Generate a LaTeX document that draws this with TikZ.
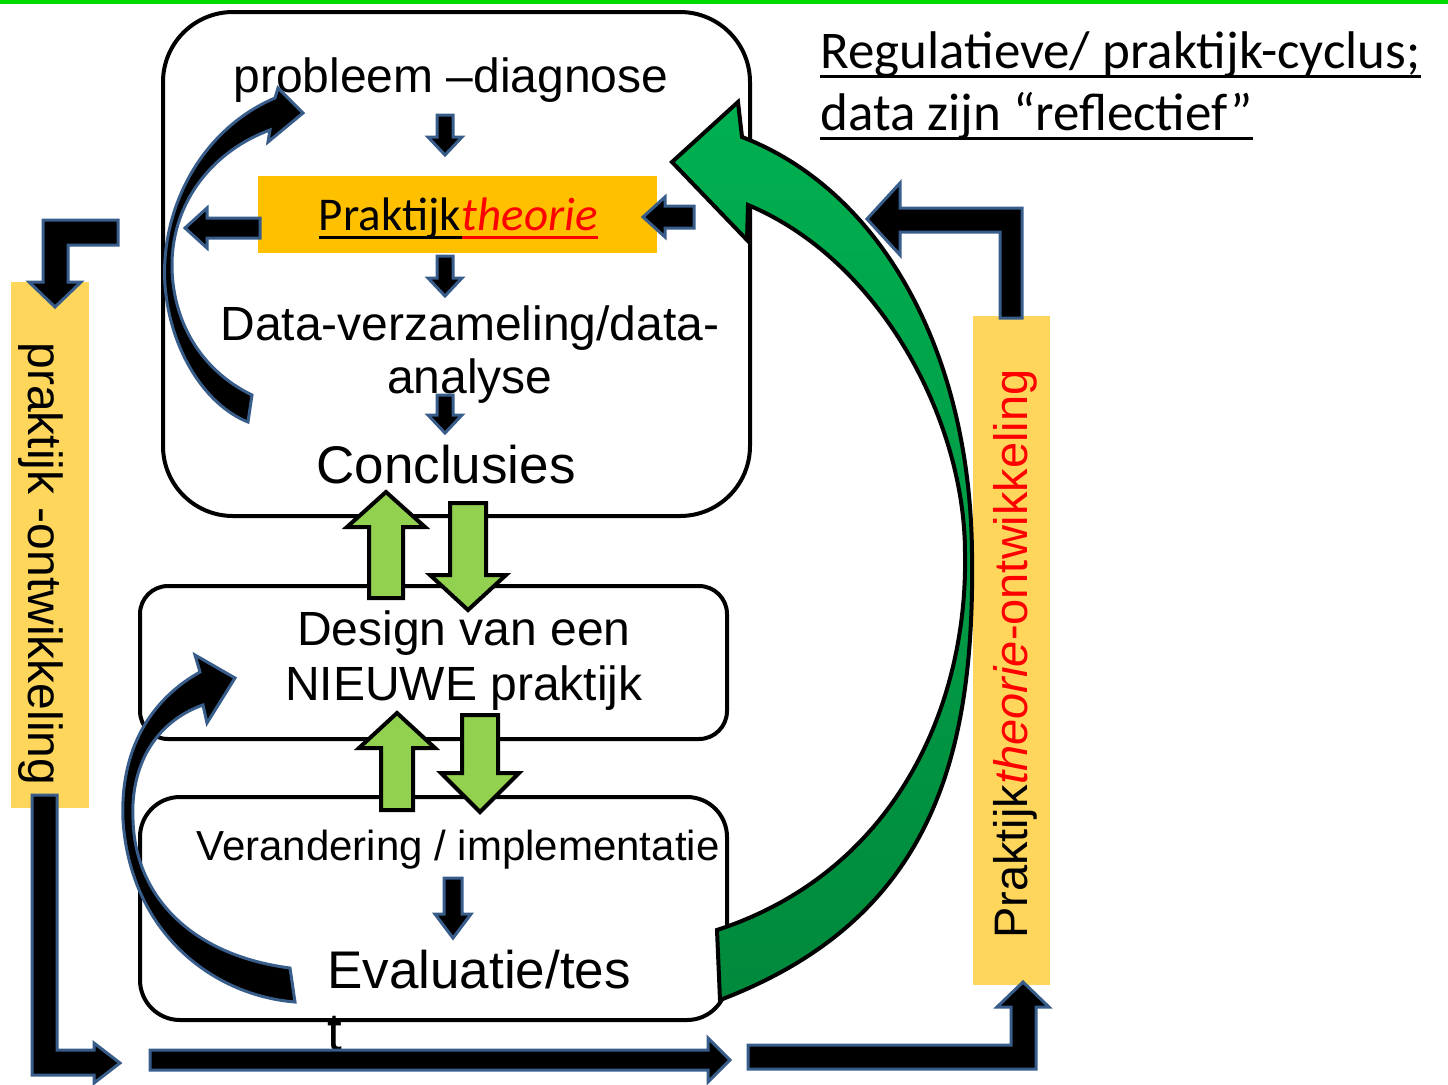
\documentclass[tikz,border=0pt]{standalone}
\usepackage{fontspec}
\setmainfont{Liberation Sans}
\newfontfamily\calibri{Carlito}

\definecolor{topgreen}{RGB}{0,220,0}
\definecolor{theoryorange}{RGB}{255,192,0}
\definecolor{baryellow}{RGB}{255,214,92}
\definecolor{stepgreen}{RGB}{146,208,80}
\definecolor{outlineblue}{RGB}{56,93,138}
\definecolor{bigtop}{RGB}{0,176,80}
\definecolor{bigbottom}{RGB}{0,137,60}

\tikzset{
  lbl/.style={inner sep=0pt, font=\fontsize{24}{29}\selectfont},
  ulbl/.style={inner sep=0pt, font=\calibri\fontsize{26.5}{31}\selectfont},
  uline/.style={line width=1.5pt},
  rbox/.style={draw, line width=2pt, inner sep=0pt},
  blkarrow/.style={fill=black, draw=outlineblue, line width=1.5pt},
  greenarrow/.style={fill=stepgreen, draw=black, line width=2pt},
  bigarrow/.style={top color=bigtop, bottom color=bigbottom, draw=black, line width=2pt}
}

% block arrow: [style]{tail}{angle}{length}{shaft half}{head half}{head length}
\newcommand{\blockarrow}[7][blkarrow]{%
  \draw[#1, shift={#2}, rotate=#3] (0,-#5) -- ({#4-#7},-#5) -- ({#4-#7},-#6) -- (#4,0)
    -- ({#4-#7},#6) -- ({#4-#7},#5) -- (0,#5) -- cycle;}

\begin{document}
\begin{tikzpicture}[x=0.5pt, y=-0.5pt]
    \useasboundingbox (0,0) rectangle (1448,1084);
    \fill[topgreen] (0,0) rectangle (1448,4);

    % Bars
    \node[fill=baryellow, minimum width=39pt, minimum height=263pt, inner sep=0pt] (leftbar) at (50,545) {};
    \node[fill=baryellow, minimum width=38.5pt, minimum height=334.5pt, inner sep=0pt] (rightbar) at (1011.5,650.5) {};

    % Boxes
    \node[rbox, rounded corners=35pt, minimum width=293.5pt, minimum height=252pt] (cyclebox) at (456.5,264) {};
    \node[rbox, rounded corners=14pt, minimum width=293.5pt, minimum height=76.5pt] (designbox) at (433.5,662.5) {};
    \node[rbox, rounded corners=20pt, minimum width=293.5pt, minimum height=111.5pt] (evalbox) at (433.5,908.5) {};
    \node[fill=theoryorange, minimum width=199.5pt, minimum height=38.5pt, inner sep=0pt] (theorybox) at (457.5,214.5) {};

    % Labels
    \node[lbl, anchor=base] (diag) at (451,92) {probleem –diagnose};
    \node[ulbl, anchor=base east, font=\calibri\fontsize{23.5}{28}\selectfont] (theoryA) at (461.5,230) {Praktijk};
    \node[ulbl, anchor=base west, font=\calibri\itshape\fontsize{23.5}{28}\selectfont, text=red] (theoryB) at (461.5,230) {theorie};
    \draw[uline] ([yshift=-3.5pt]theoryA.base west) -- ([yshift=-3.5pt]theoryA.base east);
    \draw[uline, red] ([yshift=-3.5pt]theoryB.base west) -- ([yshift=-3.5pt]theoryB.base east);
    \node[lbl, anchor=base] (data1) at (470,340) {Data-verzameling/data-};
    \node[lbl, anchor=base] (data2) at (470,393) {analyse};
    \node[lbl, anchor=base, font=\fontsize{26.5}{32}\selectfont] (concl) at (446,483) {Conclusies};
    \node[lbl, anchor=base] (design1) at (464,645) {Design van een};
    \node[lbl, anchor=base] (design2) at (464,700) {NIEUWE praktijk};
    \node[lbl, anchor=base, font=\fontsize{21}{25}\selectfont] (change) at (458,860) {Verandering / implementatie};
    \node[lbl, anchor=base west, font=\fontsize{26.5}{32}\selectfont] (eval) at (327,988) {Evaluatie/tes};
    \node[lbl, anchor=base west, font=\fontsize{26.5}{32}\selectfont] (evalt) at (327,1050) {t};
    \node[ulbl, anchor=base west] (title1) at (820,68) {Regulatieve/ praktijk-cyclus;};
    \node[ulbl, anchor=base west] (title2) at (820,130) {data zijn “reflectief”};
    \draw[uline] ([yshift=-4pt]title1.base west) -- ([yshift=-4pt]title1.base east);
    \draw[uline] ([yshift=-4pt]title2.base west) -- ([yshift=-4pt]title2.base east);
    \node[lbl, anchor=base, rotate=-90] (devleft) at (28,564) {praktijk -ontwikkeling};
    \node[lbl, anchor=base, rotate=90, font=\fontsize{23.5}{28}\selectfont] (devright) at (1027,654)
        {Praktijk\textcolor{red}{\itshape theorie}\textcolor{red}{-ontwikkeling}};

    % Small arrows
    \blockarrow{(445,115)}{-90}{40}{8}{17}{18}
    \blockarrow{(445,256)}{-90}{40}{8}{17}{18}
    \blockarrow{(445,395)}{-90}{38}{8}{17}{18}
    \blockarrow{(260,228)}{180}{75}{10}{20}{22}
    \blockarrow{(694,217)}{180}{51}{11}{20}{22}
    \blockarrow{(453,878)}{-90}{60}{9}{18}{24}
    \blockarrow{(150,1060)}{0}{580}{10}{22}{22}

    % Green up/down arrows
    \blockarrow[greenarrow]{(386,598)}{90}{106}{17}{39}{35}
    \blockarrow[greenarrow]{(468,503)}{-90}{107}{18}{38}{35}
    \blockarrow[greenarrow]{(397,810)}{90}{97}{16}{38}{35}
    \blockarrow[greenarrow]{(480,715)}{-90}{97}{18}{39}{39}

    % Elbow arrows
    \draw[blkarrow] (118,220) -- (43,220) -- (43,282) -- (29,282) -- (55,307) -- (81,282)
        -- (68,282) -- (68,245) -- (118,245) -- cycle;
    \draw[blkarrow] (32,795) -- (57,795) -- (57,1050) -- (94,1050) -- (94,1043) -- (120,1063)
        -- (94,1083) -- (94,1075) -- (32,1075) -- cycle;
    \draw[blkarrow] (748,1045) -- (1011,1045) -- (1011,1007) -- (997,1007) -- (1023,982)
        -- (1049,1007) -- (1036,1007) -- (1036,1069) -- (748,1069) -- cycle;
    \draw[blkarrow] (1000,318) -- (1000,232) -- (900,232) -- (900,255) -- (867,219)
        -- (900,183) -- (900,208) -- (1022,208) -- (1022,318) -- cycle;

    % Curved arrows
    \draw[blkarrow] (248,422) -- (252,395) .. controls (200,370) and (172,320) .. (172,265)
        .. controls (172,200) and (215,150) .. (270,130) -- (268,142) -- (303,113) -- (278,88)
        -- (275,98) .. controls (200,130) and (160,210) .. (165,285)
        .. controls (170,350) and (205,405) .. (248,422) -- cycle;
    \draw[blkarrow] (295,1002) -- (290,968) .. controls (190,955) and (135,895) .. (133,820)
        .. controls (130,760) and (160,720) .. (203,705) -- (207,723) -- (235,678) -- (195,655)
        -- (200,672) .. controls (150,700) and (120,750) .. (123,820)
        .. controls (130,930) and (210,995) .. (295,1002) -- cycle;
    \draw[bigarrow] (720,1000) -- (717,930) .. controls (900,870) and (968,700) .. (965,553)
        .. controls (965,420) and (880,260) .. (748,205) -- (747,240) -- (672,162) -- (738,102)
        -- (742,137) .. controls (880,190) and (970,350) .. (972,553)
        .. controls (975,760) and (930,920) .. (720,1000) -- cycle;
\end{tikzpicture}
\end{document}
